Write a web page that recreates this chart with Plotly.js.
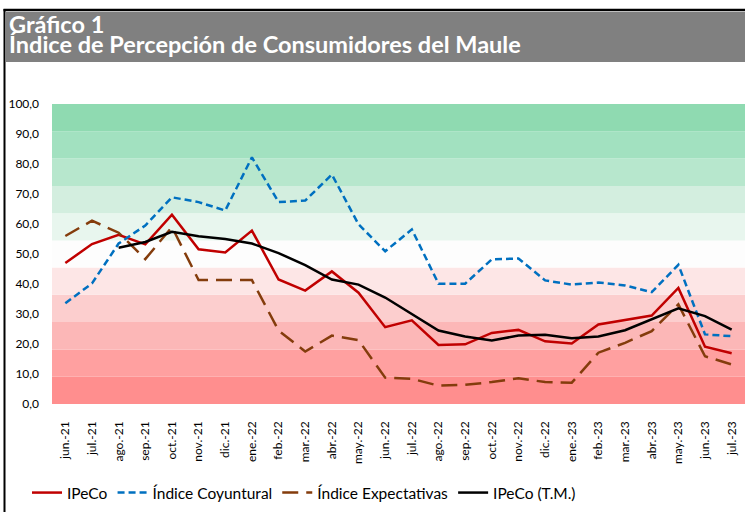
<!DOCTYPE html>
<html>
<head>
<meta charset="utf-8">
<script src="https://cdn.plot.ly/plotly-3.0.1.min.js"></script>
<style>
html,body{margin:0;padding:0;background:#fff;}
#chart{width:745px;height:512px;}
</style>
</head>
<body>
<div id="chart"></div>
<script>
var months = ['jun.-21','jul.-21','ago.-21','sep.-21','oct.-21','nov.-21','dic.-21','ene.-22','feb.-22','mar.-22','abr.-22','may.-22','jun.-22','jul.-22','ago.-22','sep.-22','oct.-22','nov.-22','dic.-22','ene.-23','feb.-23','mar.-23','abr.-23','may.-23','jun.-23','jul.-23'];

var ipeco = [47.0, 53.3, 56.4, 53.2, 63.1, 51.6, 50.5, 57.8, 41.5, 37.8, 44.2, 37.1, 25.6, 27.9, 19.7, 19.9, 23.7, 24.7, 20.9, 20.2, 26.5, 27.9, 29.5, 38.7, 19.1, 16.9];

var coyuntural = [33.6, 40.2, 53.5, 59.5, 68.9, 67.3, 64.5, 82.2, 67.3, 67.8, 76.5, 59.9, 50.9, 58.2, 40.1, 40.1, 48.2, 48.5, 41.2, 39.8, 40.5, 39.5, 37.3, 46.4, 23.2, 22.6];

var expectativas = [56.0, 61.1, 57.1, 48.3, 59.0, 41.3, 41.3, 41.3, 24.5, 17.5, 22.8, 21.3, 8.8, 8.4, 6.1, 6.4, 7.3, 8.6, 7.3, 7.1, 17.1, 20.4, 24.3, 33.2, 15.9, 13.2];

var ipecoTM = [null, null, 52.1, 54.0, 57.4, 55.9, 55.0, 53.5, 50.3, 46.3, 41.5, 39.8, 35.5, 29.9, 24.5, 22.5, 21.2, 22.8, 23.1, 21.9, 22.5, 24.6, 28.2, 31.9, 29.3, 24.8];

var seriesNames = ['IPeCo', 'Índice Coyuntural', 'Índice Expectativas', 'IPeCo (T.M.)'];

var bandEdges = [0, 9.1, 18.2, 27.3, 36.4, 45.5, 54.5, 63.6, 72.7, 81.8, 90.9, 100];
var bandColors = ['#FF8E8E','#FFA0A0','#FCB7B7','#FCCECE','#FDE6E6','#FDFDFD','#E8F6EE','#D3EEDF','#B7E7CD','#A2E1C0','#8FDAB1'];

var titleLines = ['Gráfico 1', 'Índice de Percepción de Consumidores del Maule'];

var FONT = 'Lato, "Open Sans", sans-serif';

var traces = [
  {x: months, y: ipeco, name: seriesNames[0], type: 'scatter', mode: 'lines',
   line: {color: '#C00000', width: 2.5}},
  {x: months, y: coyuntural, name: seriesNames[1], type: 'scatter', mode: 'lines',
   line: {color: '#0070C0', width: 2.5, dash: '7px,4px'}},
  {x: months, y: expectativas, name: seriesNames[2], type: 'scatter', mode: 'lines',
   line: {color: '#843C0C', width: 2.5, dash: '16px,8px'}},
  {x: months, y: ipecoTM, name: seriesNames[3], type: 'scatter', mode: 'lines',
   line: {color: '#000000', width: 2.5}}
];

var W = 745, H = 512, ML = 52, MR = 0, MT = 104, MB = 108;
var pw = W - ML - MR, ph = H - MT - MB;
function px2x(px){ return (px - ML) / pw; }
function py2y(py){ return (H - MB - py) / ph; }

var shapes = [];
for (var i = 0; i < bandColors.length; i++) {
  shapes.push({type: 'rect', xref: 'paper', yref: 'y', x0: 0, x1: 1,
    y0: bandEdges[i], y1: bandEdges[i+1], fillcolor: bandColors[i],
    line: {width: 0}, layer: 'below'});
}
// header band
shapes.push({type: 'rect', xref: 'paper', yref: 'paper', x0: px2x(6), x1: px2x(745),
  y0: py2y(62), y1: py2y(12), fillcolor: '#808080', line: {width: 0}});
// frame lines
shapes.push({type: 'line', xref: 'paper', yref: 'paper', x0: px2x(3.5), x1: px2x(745),
  y0: py2y(10), y1: py2y(10), line: {color: '#000', width: 2.5}});
shapes.push({type: 'line', xref: 'paper', yref: 'paper', x0: px2x(4.5), x1: px2x(4.5),
  y0: py2y(9), y1: py2y(512), line: {color: '#000', width: 2}});

var annotations = [
  {text: '<b>' + titleLines[0] + '</b><br><b>' + titleLines[1] + '</b>', xref: 'paper', yref: 'paper',
   x: px2x(7), y: py2y(8), xanchor: 'left', yanchor: 'top', align: 'left', showarrow: false,
   font: {family: FONT, size: 23.5, color: '#ffffff'}}
];

var layout = {
  width: W, height: H,
  margin: {l: ML, r: MR, t: MT, b: MB, pad: 0},
  paper_bgcolor: '#ffffff', plot_bgcolor: '#ffffff',
  separators: ',.',
  font: {family: FONT, color: '#000000'},
  showlegend: true,
  legend: {orientation: 'h', x: px2x(27), xanchor: 'left', y: py2y(493), yanchor: 'middle',
    font: {family: FONT, size: 15.5, color: '#000'}, itemgap: 7, itemwidth: 30, bgcolor: 'rgba(0,0,0,0)'},
  xaxis: {type: 'category', range: [-0.5, 25.5], tickangle: -90, showgrid: false,
    zeroline: false, showline: false, ticks: '', ticklabelstandoff: 14,
    tickfont: {family: FONT, size: 12, color: '#000'}, fixedrange: true},
  yaxis: {range: [0, 100], dtick: 10, tick0: 0, tickformat: '.1f', showgrid: false,
    zeroline: false, showline: false, ticks: '', ticklabelstandoff: 12,
    tickfont: {family: FONT, size: 12, color: '#000'}, fixedrange: true},
  shapes: shapes,
  annotations: annotations
};

Plotly.newPlot('chart', traces, layout, {displayModeBar: false, staticPlot: true}).then(function(gd){
  // tighten title line spacing to match the reference's compact heading
  var lines = gd.querySelectorAll('.annotation-text tspan.line');
  if (lines.length > 1) {
    lines[0].setAttribute('dy', '0em');
    lines[1].setAttribute('dy', '0.86em');
  }
});
</script>
</body>
</html>
